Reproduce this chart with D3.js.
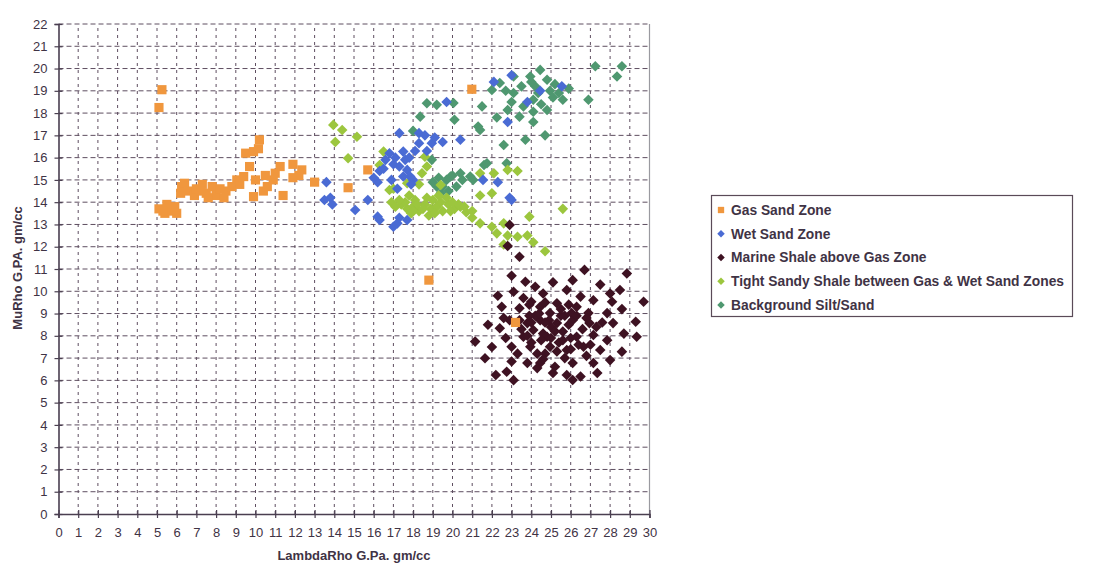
<!DOCTYPE html>
<html><head><meta charset="utf-8">
<script src="https://cdn.jsdelivr.net/npm/d3@7"></script>
<style>body{margin:0;background:#fff}text{font-family:"Liberation Sans",Arial,sans-serif}</style>
</head><body><svg id="c" width="1100" height="580"></svg>
<script>
const xTicks = d3.range(0, 31);
const yTicks = d3.range(0, 23);
const seriesNames = ["Gas Sand Zone","Wet Sand Zone","Marine Shale above Gas Zone","Tight Sandy Shale between Gas & Wet Sand Zones","Background Silt/Sand"];
const gasSand = [[5.25,19.05],[5.1,18.25],[5.1,13.7],[5.4,13.5],[5.7,13.6],[6.0,13.5],[5.9,13.8],[5.5,13.9],[5.3,13.6],
[6.2,14.4],[6.25,14.7],[6.4,14.85],[6.6,14.5],[6.9,14.3],[7.0,14.6],[7.3,14.8],[7.5,14.4],[7.8,14.7],[8.0,14.3],[8.2,14.6],[8.5,14.5],[7.6,14.2],[8.8,14.7],[8.4,14.2],[7.2,14.5],
[9.05,15.0],[9.4,15.15],[9.2,14.8],[9.5,16.2],[9.9,16.27],[10.2,16.8],[10.15,16.4],[9.7,15.6],[10.0,15.0],[9.9,14.25],
[10.4,14.5],[10.6,14.7],[10.9,15.0],[11.25,15.6],[11.0,15.3],[11.4,14.3],[11.9,15.1],[11.9,15.7],[12.35,15.45],[12.2,15.2],[10.5,15.2],
[13.0,14.9],[14.7,14.65],[15.7,15.45],[20.98,19.07],[18.8,10.5],[23.2,8.6]];
const wetSand = [[13.6,14.9],[13.8,14.2],[13.5,14.1],[13.9,13.9],[15.06,13.65],[15.7,14.1],[16.2,13.35],[16.3,13.2],[17.2,13.05],[17.3,13.3],[17.7,13.2],[17.0,12.9],
[16.2,14.9],[16.3,15.4],[16.6,15.9],[16.8,16.2],[17.3,17.1],[17.5,16.27],[17.0,15.7],[17.3,15.6],[17.7,15.45],[17.85,15.15],[17.5,15.15],[16.9,15.0],[17.2,14.6],
[18.1,16.3],[18.3,17.1],[18.6,17.0],[18.95,16.65],[19.1,16.9],[19.5,16.7],[20.4,16.8],[18.3,16.65],[17.8,16.0],
[21.55,15.0],[22.3,14.9],[22.9,14.2],[23.0,14.1],[19.7,18.5],[22.1,19.4],[23.0,19.7],[23.8,18.5],[22.8,17.6],[25.55,19.2],[24.45,19.0],
[17.1,16.0],[16.5,15.5],[18.0,15.0],[17.6,15.9],[18.7,16.3],[16.0,15.1],[17.9,14.8]];
const marineShale = [[23.4,11.55],[22.8,12.03],[22.9,12.98],[26.7,10.96],[28.85,10.8],[23.7,10.43],[23.1,9.98],[25.8,10.06],[28.5,10.06],[29.7,9.53],
[22.5,9.3],[24.0,9.53],[24.6,9.9],[25.3,9.46],[26.5,9.76],[27.15,9.6],[28.1,9.53],[23.4,9.24],[24.45,9.3],[24.95,9.02],[26.05,9.02],[26.9,9.02],[27.85,9.02],[29.3,8.63],
[22.4,8.34],[22.9,8.7],[23.8,8.57],[24.45,8.7],[25.3,8.57],[26.1,8.7],[26.95,8.57],[28.15,8.57],[28.7,8.1],[29.35,7.96],
[22.7,7.9],[23.6,7.96],[24.1,8.26],[24.8,7.96],[25.6,8.19],[26.3,7.96],[27.15,8.04],[27.85,7.8],[28.6,7.29],
[21.15,7.74],[23.0,7.51],[23.95,7.51],[24.95,7.51],[25.8,7.36],[26.65,7.51],[27.5,7.36],
[21.65,6.99],[23.0,6.85],[23.8,6.78],[24.45,6.78],[25.2,6.61],[26.1,6.78],[27.15,6.78],[28.0,6.91],
[22.2,6.24],[23.1,6.01],[24.3,6.55],[25.1,6.33],[25.8,6.24],[26.5,6.17],[27.35,6.33],[26.1,6.02],[22.75,6.39],
[23.5,8.3],[24.2,8.9],[25.0,8.4],[25.7,8.9],[24.6,8.1],[25.4,7.7],[26.0,7.9],[23.3,7.2],[24.3,7.2],[26.8,7.1],[27.6,8.6],[25.9,9.4],[23.6,9.7],
[23.9,8.9],[24.4,9.0],[24.9,8.7],[25.5,8.9],[26.3,8.9],[26.6,8.3],[25.9,8.5],[25.2,8.2],[24.7,8.6],[24.0,8.6],[23.8,8.0],[24.5,7.8],[25.0,7.9],[25.6,7.8],[26.0,7.4],[26.4,7.6],[25.3,7.3],[24.7,7.2],[24.0,7.7],[23.4,8.7],[26.8,8.8],[27.3,8.4],[27.0,7.6],[25.7,7.0],[24.6,6.95],[23.9,9.4],[24.7,9.5],[25.5,9.2],[26.3,9.3],[22.3,9.8],[22.6,8.8],[28.0,9.9],[27.5,10.3],[24.2,10.2],[25.1,10.4],[26.1,10.5],[23.0,10.7],[28.6,9.2],[21.8,8.5],[22.0,7.5]];
const tightShale = [[13.95,17.47],[14.4,17.24],[14.05,16.7],[15.15,16.94],[14.7,15.97],[16.3,15.67],[16.5,16.27],[16.8,14.55],[17.0,14.6],[17.7,14.85],[18.3,14.8],[18.45,15.3],[18.6,16.04],[18.7,15.6],[19.4,14.77],
[17.4,13.9],[17.7,13.7],[18.0,13.8],[18.3,13.6],[18.6,13.9],[18.9,13.7],[19.2,13.8],[19.5,13.6],[19.8,13.9],[20.1,13.7],[20.4,13.8],[20.7,13.55],[18.1,14.1],[19.0,14.1],[19.7,14.2],[17.9,13.5],[18.8,13.4],[16.9,14.0],[17.1,13.8],
[21.4,13.05],[22.0,12.9],[22.6,13.05],[22.8,12.5],[23.3,12.45],[23.8,12.5],[24.1,12.2],[24.7,11.8],[23.9,13.35],[25.6,13.7],[22.6,12.1],[22.25,12.6],[21.0,13.3],
[22.1,15.3],[23.3,15.4],[22.8,15.45],[21.4,14.3],[22.0,14.4],[21.4,15.3],
[17.6,14.0],[18.2,13.9],[18.5,13.7],[19.1,13.5],[19.4,14.0],[19.9,13.6],[20.3,13.9],[18.0,13.6],[17.3,14.1],[20.0,14.0],[20.6,13.8],[21.0,13.6],[17.8,14.3],[18.7,14.2],[19.3,14.3]];
const background = [[27.25,20.1],[28.6,20.1],[28.35,19.64],[24.45,19.94],[23.95,19.64],[23.1,19.64],[22.0,19.04],[22.4,19.35],[23.1,18.9],[24.2,19.2],[24.35,18.9],[24.95,19.0],[25.4,18.9],[25.9,19.1],[25.1,18.7],[26.9,18.6],[24.1,18.6],
[23.4,17.84],[22.8,18.14],[24.1,18.06],[24.8,18.14],[24.1,17.6],[20.1,17.7],[21.5,18.3],[21.3,17.4],[22.25,17.8],[23.7,16.8],[24.7,17.0],[22.6,16.57],[21.4,17.24],[20.05,18.45],
[18.7,18.44],[19.2,18.37],[18.36,17.84],[18.0,17.2],
[22.75,15.75],[21.6,15.67],[20.0,15.2],[20.9,15.15],[19.5,14.7],[19.9,15.15],[20.2,14.7],[19.4,14.4],[21.05,15.0],[21.75,15.75],[19.7,15.0],[19.2,14.7],[18.95,15.9],
[19.3,15.1],[20.5,15.0],[19.8,14.5],[20.4,15.3],[19.0,14.9],
[23.5,19.2],[24.8,19.5],[25.2,19.3],[24.0,19.4],[22.7,19.0],[25.6,18.6],[23.6,18.3],[24.5,18.4],[23.0,18.5]];
const seriesColors = ["#f0973e","#4a6bd4","#3e1222","#9cc63e","#4f9870"];
const seriesShapes = ["square","diamond","diamond","diamond","diamond"];
const seriesData = [gasSand, wetSand, marineShale, tightShale, background];
const drawOrder = [4,3,1,2,0];

const svg = d3.select("#c");
const x = d3.scaleLinear().domain([0,30]).range([58.5,649.5]);
const y = d3.scaleLinear().domain([0,22]).range([514,24]);
const gridCol = "#5e4e60", txtCol = "#3f3345";

const grid = svg.append("g");
grid.selectAll("line.h").data(yTicks.slice(1)).join("line")
  .attr("x1", x(0)).attr("x2", x(30)).attr("y1", d=>y(d)).attr("y2", d=>y(d))
  .attr("stroke", gridCol).attr("stroke-width",1).attr("stroke-dasharray","5,3");
grid.selectAll("line.v").data(xTicks.slice(1,30)).join("line")
  .attr("x1", d=>x(d)).attr("x2", d=>x(d)).attr("y1", y(0)).attr("y2", y(22))
  .attr("stroke", gridCol).attr("stroke-width",1).attr("stroke-dasharray","3,4");
svg.append("line").attr("x1",x(30)).attr("x2",x(30)).attr("y1",y(0)).attr("y2",y(22)).attr("stroke","#9a9aa0").attr("stroke-width",1.2);

const xa = svg.append("g").attr("transform",`translate(0,${y(0)})`)
  .call(d3.axisBottom(x).tickValues(xTicks).tickFormat(d3.format("d")).tickSize(4).tickPadding(10));
const ya = svg.append("g").attr("transform",`translate(${x(0)},0)`)
  .call(d3.axisLeft(y).tickValues(yTicks).tickFormat(d3.format("d")).tickSize(4).tickPadding(7));
[xa,ya].forEach(a=>{
  a.select(".domain").attr("stroke","#4a3f50").attr("stroke-width",1.6);
  a.selectAll(".tick line").attr("stroke","#4a3f50").attr("stroke-width",1.2);
  a.selectAll(".tick text").attr("fill",txtCol).style("font-size","13px").style("font-family","Liberation Sans, Arial, sans-serif");
});
xa.selectAll(".tick").append("line").attr("y1",-4).attr("y2",0).attr("stroke","#4a3f50").attr("stroke-width",1.2);
ya.selectAll(".tick").append("line").attr("x1",0).attr("x2",4).attr("stroke","#4a3f50").attr("stroke-width",1.2);

svg.append("text").attr("x",354).attr("y",560).attr("text-anchor","middle")
  .attr("fill",txtCol).style("font-size","13px").style("font-weight","bold").text("LambdaRho G.Pa. gm/cc");
svg.append("text").attr("transform","translate(22,268) rotate(-90)").attr("text-anchor","middle")
  .attr("fill",txtCol).style("font-size","13px").style("font-weight","bold").text("MuRho G.PA. gm/cc");

function shapePath(s){ return d3.symbol().type(d3.symbolSquare).size(s==="square" ? 84 : 56)(); }
drawOrder.forEach(i=>{
  svg.append("g").selectAll("path").data(seriesData[i]).join("path")
    .attr("d", shapePath(seriesShapes[i]))
    .attr("transform", d=>`translate(${x(d[0])},${y(d[1])})` + (seriesShapes[i]==="diamond"?" rotate(45)":""))
    .attr("fill", seriesColors[i]);
});

const lg = svg.append("g");
lg.append("rect").attr("x",711.5).attr("y",195.5).attr("width",361).attr("height",121)
  .attr("fill","#fff").attr("stroke","#5a4a58").attr("stroke-width",1.2);
const ly = d3.scalePoint().domain(seriesNames).range([210,305]);
seriesNames.forEach((n,i)=>{
  lg.append("path").attr("d", d3.symbol().type(d3.symbolSquare).size(seriesShapes[i]==="square" ? 40 : 28)())
    .attr("transform",`translate(721,${ly(n)})`+(seriesShapes[i]==="diamond"?" rotate(45)":""))
    .attr("fill",seriesColors[i]);
  lg.append("text").attr("x",731).attr("y",ly(n)).attr("dy","0.36em").attr("fill",txtCol)
    .style("font-size","13.8px").style("font-weight","bold").text(n);
});
</script></body></html>
